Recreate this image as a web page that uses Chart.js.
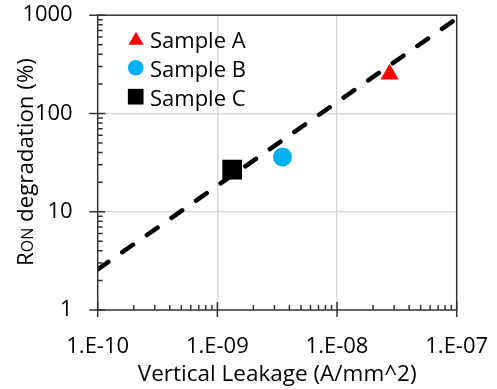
<!DOCTYPE html>
<html><head><meta charset="utf-8">
<script src="https://cdn.jsdelivr.net/npm/chart.js@4.4.1/dist/chart.umd.min.js"></script>
<style>html,body{margin:0;padding:0;background:#fff;}#wrap{width:497px;height:389px;}</style>
</head><body><div id="wrap"><canvas id="c" width="497" height="389"></canvas></div>
<script>
// ---- data ----
const seriesNames = ['Sample A', 'Sample B', 'Sample C'];
const leakageA = [2.75e-8];
const ronA = [250];
const leakageB = [3.5e-9];
const ronB = [36];
const leakageC = [1.33e-9];
const ronC = [26.8];
const fitX = [1e-10, 1e-7];
const fitY = [2.59, 925];
const xTickValues = [1e-10, 1e-9, 1e-8, 1e-7];
const xTickLabels = ['1.E-10', '1.E-09', '1.E-08', '1.E-07'];
const yTickValues = [1, 10, 100, 1000];
const yTickLabels = ['1', '10', '100', '1000'];
const xTitle = 'Vertical Leakage (A/mm^2)';
const yTitleParts = ['R', 'ON', ' degradation (%)'];

const FONT = 'Open Sans';
const toPts = (xs, ys) => xs.map((x, i) => ({x: x, y: ys[i]}));

const framePlugin = {
  id: 'frame',
  afterDraw(chart) {
    const ctx = chart.ctx, a = chart.chartArea;
    const xs = chart.scales.x, ys = chart.scales.y;
    ctx.save();
    ctx.strokeStyle = '#333';
    ctx.lineWidth = 1.5;
    ctx.strokeRect(a.left, a.top, a.right - a.left, a.bottom - a.top);
    ctx.beginPath();
    xTickValues.forEach((v, i) => {
      const px = xs.getPixelForValue(v);
      ctx.moveTo(px, a.bottom - 8); ctx.lineTo(px, a.bottom + 7);
      if (i < xTickValues.length - 1) {
        for (let k = 2; k <= 9; k++) {
          const p = xs.getPixelForValue(k * v);
          ctx.moveTo(p, a.bottom - 5); ctx.lineTo(p, a.bottom);
        }
      }
    });
    yTickValues.forEach((v, i) => {
      const py = ys.getPixelForValue(v);
      ctx.moveTo(a.left - 8.5, py); ctx.lineTo(a.left + 7.5, py);
      if (i < yTickValues.length - 1) {
        for (let k = 2; k <= 9; k++) {
          const p = ys.getPixelForValue(k * v);
          ctx.moveTo(a.left, p); ctx.lineTo(a.left + 5, p);
        }
      }
    });
    ctx.stroke();

    // y title with small-caps "ON", fitted to the reference length
    const sizes = [21, 15, 21];
    let widths = yTitleParts.map((t, i) => { ctx.font = sizes[i] + 'px "' + FONT + '"'; return ctx.measureText(t).width; });
    const W0 = widths.reduce((s, w) => s + w, 0);
    const k = 208 / W0;
    const fonts = sizes.map(s => (s * k).toFixed(2) + 'px "' + FONT + '"');
    widths = widths.map(w => w * k);
    const W = 208;
    ctx.translate(33, 162);
    ctx.rotate(-Math.PI / 2);
    ctx.fillStyle = '#000';
    ctx.textBaseline = 'alphabetic';
    ctx.textAlign = 'left';
    let x = -W / 2;
    yTitleParts.forEach((t, i) => { ctx.font = fonts[i]; ctx.fillText(t, x, 0); x += widths[i]; });
    ctx.setTransform(1, 0, 0, 1, 0, 0);

    // legend
    const leg = [
      {ds: 1, x: 136, y: 40.4, r: 8.7, ty: 47.7},
      {ds: 2, x: 135.7, y: 67.7, r: 7.8, ty: 76.7},
      {ds: 3, x: 135.7, y: 96.7, r: 11.1, ty: 105.7}
    ];
    leg.forEach(l => {
      const d = chart.data.datasets[l.ds];
      ctx.fillStyle = d.backgroundColor;
      Chart.helpers.drawPoint(ctx, {pointStyle: d.pointStyle, radius: l.r, rotation: 0, borderWidth: 0}, l.x, l.y);
      ctx.fillStyle = '#000';
      ctx.font = '22px "' + FONT + '"';
      ctx.textBaseline = 'alphabetic';
      ctx.fillText(d.label, 150, l.ty);
    });
    ctx.restore();
  }
};

new Chart(document.getElementById('c'), {
  type: 'scatter',
  data: {
    datasets: [
      {label: 'fit', data: toPts(fitX, fitY), showLine: true, pointRadius: 0, borderColor: '#000',
       borderWidth: 4.5, borderDash: [13, 17], borderCapStyle: 'round', fill: false},
      {label: seriesNames[0], data: toPts(leakageA, ronA), pointStyle: 'triangle', pointRadius: 10.5,
       backgroundColor: '#ff0000', borderWidth: 0},
      {label: seriesNames[1], data: toPts(leakageB, ronB), pointStyle: 'circle', pointRadius: 9.5,
       backgroundColor: '#00b0f0', borderWidth: 0},
      {label: seriesNames[2], data: toPts(leakageC, ronC), pointStyle: 'rect', pointRadius: 13.9,
       backgroundColor: '#000000', borderWidth: 0}
    ]
  },
  options: {
    responsive: false, animation: false, devicePixelRatio: 1, events: [],
    layout: {padding: {top: 14.3, right: 40.3, left: 0, bottom: 0}},
    plugins: {legend: {display: false}, tooltip: {enabled: false}},
    scales: {
      x: {
        type: 'logarithmic', min: 1e-10, max: 1e-7,
        afterBuildTicks: s => { s.ticks = xTickValues.map(v => ({value: v})); },
        afterFit: s => { s.height = 79; },
        ticks: {autoSkip: false, maxRotation: 0, padding: 2, color: '#000',
          font: {family: FONT, size: 22}, callback: (v, i) => xTickLabels[i]},
        grid: {drawTicks: true, tickLength: 22, tickColor: 'rgba(0,0,0,0)', lineWidth: 1.5,
          color: c => (c.index > 0 && c.index < xTickValues.length - 1) ? '#d9d9d9' : 'rgba(0,0,0,0)'},
        border: {display: false},
        title: {display: true, text: xTitle, color: '#000', font: {family: FONT, size: 22.5},
          padding: {top: 0, bottom: 1}}
      },
      y: {
        type: 'logarithmic', min: 1, max: 1000,
        afterBuildTicks: s => { s.ticks = yTickValues.map(v => ({value: v})); },
        afterFit: s => { s.width = 97.7; },
        ticks: {autoSkip: false, padding: 2, color: '#000',
          font: {family: FONT, size: 22}, callback: (v, i) => yTickLabels[i]},
        grid: {drawTicks: true, tickLength: 23, tickColor: 'rgba(0,0,0,0)', lineWidth: 1.5,
          color: c => (c.index > 0 && c.index < yTickValues.length - 1) ? '#d9d9d9' : 'rgba(0,0,0,0)'},
        border: {display: false}
      }
    }
  },
  plugins: [framePlugin]
});
</script></body></html>
